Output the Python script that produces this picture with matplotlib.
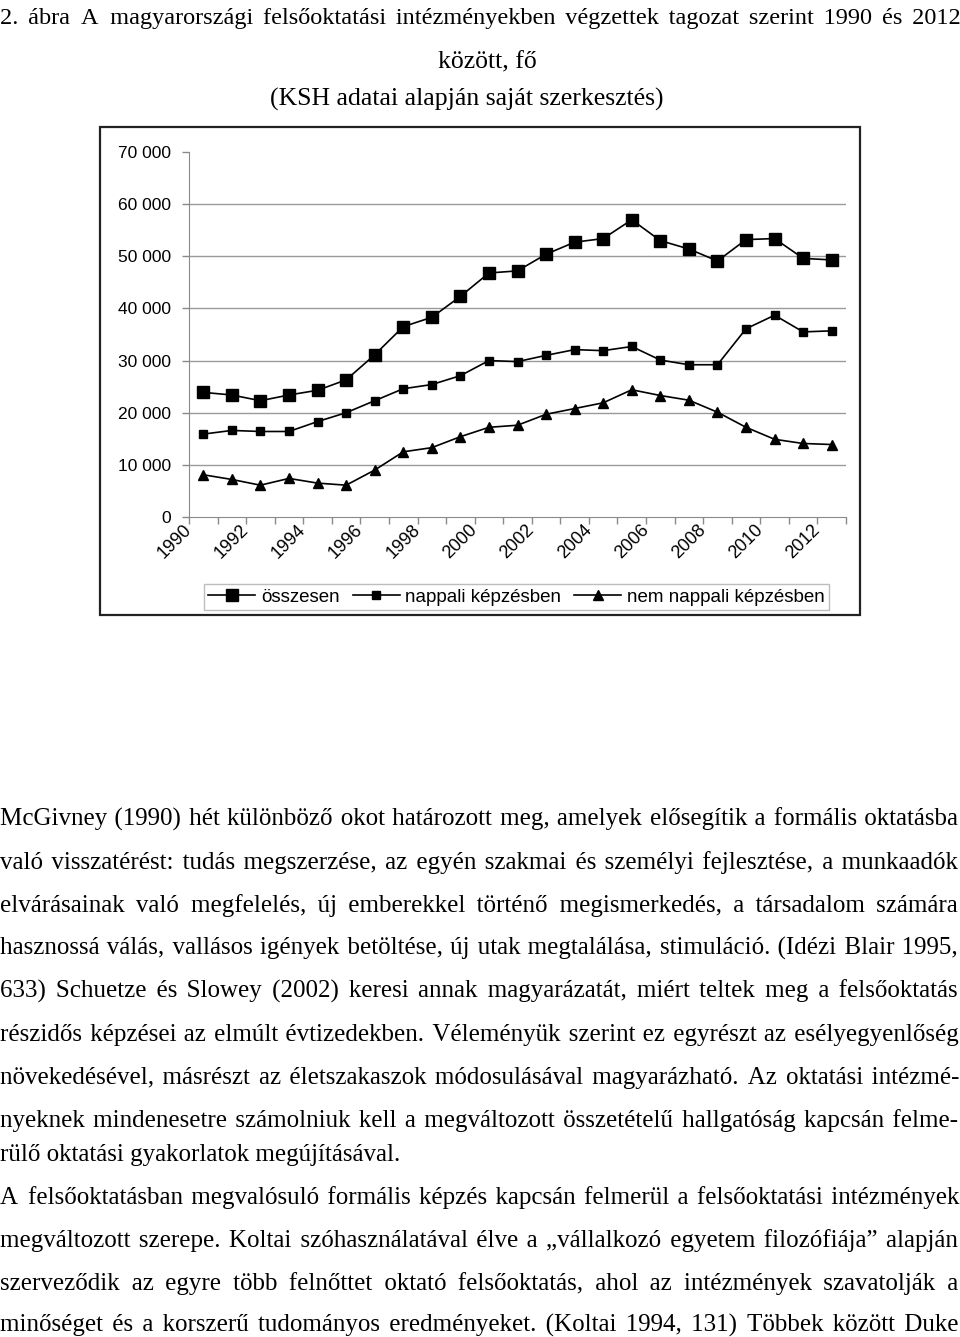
import itertools
import matplotlib
matplotlib.use("Agg")
import matplotlib.pyplot as plt
from matplotlib.patches import Rectangle

# --- data (KSH, graduates by type of training) ---
years = list(range(1990, 2013))
osszesen = [23900, 23400, 22300, 23400, 24300, 26300, 31100, 36500, 38300, 42300, 46800, 47200,
            50400, 52700, 53400, 57000, 53000, 51400, 49100, 53200, 53400, 49600, 49300]
nappali = [15900, 16600, 16400, 16400, 18300, 20000, 22300, 24600, 25400, 27100, 30000, 29800,
           31000, 32100, 31900, 32700, 30100, 29200, 29200, 36100, 38700, 35500, 35700]
nem_nappali = [8100, 7200, 6100, 7400, 6500, 6100, 9000, 12500, 13300, 15400, 17200, 17600,
               19700, 20800, 21900, 24400, 23300, 22400, 20100, 17200, 14900, 14100, 13900]
series_names = ["összesen", "nappali képzésben", "nem nappali képzésben"]
y_ticks = [0, 10000, 20000, 30000, 40000, 50000, 60000, 70000]

title_lines = [
    "2. ábra A magyarországi felsőoktatási intézményekben végzettek tagozat szerint 1990 és 2012",
    "között, fő",
    "(KSH adatai alapján saját szerkesztés)",
]

# (text, justified?)
body_lines = [
    ("McGivney (1990) hét különböző okot határozott meg, amelyek elősegítik a formális oktatásba", True),
    ("való visszatérést: tudás megszerzése, az egyén szakmai és személyi fejlesztése, a munkaadók", True),
    ("elvárásainak való megfelelés, új emberekkel történő megismerkedés, a társadalom számára", True),
    ("hasznossá válás, vallásos igények betöltése, új utak megtalálása, stimuláció. (Idézi Blair 1995,", True),
    ("633) Schuetze és Slowey (2002) keresi annak magyarázatát, miért teltek meg a felsőoktatás", True),
    ("részidős képzései az elmúlt évtizedekben. Véleményük szerint ez egyrészt az esélyegyenlőség", True),
    ("növekedésével, másrészt az életszakaszok módosulásával magyarázható. Az oktatási intézmé-", True),
    ("nyeknek mindenesetre számolniuk kell a megváltozott összetételű hallgatóság kapcsán felme-", True),
    ("rülő oktatási gyakorlatok megújításával.", False),
    ("A felsőoktatásban megvalósuló formális képzés kapcsán felmerül a felsőoktatási intézmények", True),
    ("megváltozott szerepe.  Koltai szóhasználatával élve a „vállalkozó egyetem filozófiája” alapján", True),
    ("szerveződik az egyre több felnőttet oktató felsőoktatás, ahol az intézmények szavatolják a", True),
    ("minőséget és a korszerű tudományos eredményeket. (Koltai 1994, 131) Többek között Duke", True),
]
body_baselines = [826, 869, 912, 955, 998, 1041, 1084, 1127, 1161, 1204, 1247, 1290, 1332]

W, H = 960, 1337
SERIF = ["Liberation Serif", "DejaVu Serif"]
SANS = "Liberation Sans"
# candidate space characters for justification (normal first)
SPACE_CHARS = [" ", "\u2004", "\u2005", "\u2006", "\u2009", "\u200a", "\u2002", "\u2008"]

fig = plt.figure(figsize=(W / 100, H / 100), dpi=100)
fig.patch.set_facecolor("white")

# page layer in pixel coordinates
page = fig.add_axes([0, 0, 1, 1])
page.set_xlim(0, W)
page.set_ylim(H, 0)
page.axis("off")
page.set_zorder(0)

renderer = fig.canvas.get_renderer()


def text_width(s, size):
    t = page.text(0, 0, s, fontsize=size, family=SERIF)
    w = t.get_window_extent(renderer).width
    t.remove()
    return w


def usable_spaces(size):
    base = text_width("aa", size)
    found = []
    for c in SPACE_CHARS:
        w = text_width("a" + c + "a", size) - base
        if w > 0.3 and all(abs(w - f[1]) > 0.3 for f in found):
            found.append((c, w))
    return found


def text_line(line, y, x0=0, x1=W, size=16.3, justify=True):
    """One line of text as a single string; justification is done with
    a mix of space characters of different widths between the words."""
    words = line.split()
    if not justify or len(words) < 2:
        page.text(x0, y, " ".join(words), fontsize=size, family=SERIF, va="baseline", ha="left")
        return
    spaces = usable_spaces(size)
    chars = [c for c, _ in spaces]
    sw = [w for _, w in spaces]
    ww = [text_width(w, size) for w in words]
    gap = (x1 - x0 - sum(ww)) / (len(words) - 1)
    if gap < 0.6 * sw[0]:
        scale = (x1 - x0) / (sum(ww) + 0.6 * sw[0] * (len(words) - 1))
        return text_line(line, y, x0, x1, size * scale, justify)
    ranges = [range(0, 5)] + [range(0, 3)] * (len(sw) - 1)
    combos = [(sum(n * w for n, w in zip(k, sw)), k)
              for k in itertools.product(*ranges) if sum(k) > 0]
    out, carry = words[0], 0.0
    for prev, w, wnext in zip(words[:-1], words[1:], ww[1:]):
        # side bearings between the two words, beyond a plain space
        pair = text_width(prev + " " + w, size) - text_width(prev, size) - wnext
        need = gap + carry - (pair - sw[0])
        width, k = min(combos, key=lambda c: abs(c[0] - need))
        carry = need - width
        out += "".join(c * n for c, n in zip(chars, k)) + w
    page.text(x0, y, out, fontsize=size, family=SERIF, va="baseline", ha="left")


# title
text_line(title_lines[0], 24, 0, 958, size=17.5, justify=True)
page.text(487, 68, title_lines[1], fontsize=18.5, family=SERIF, ha="center", va="baseline")
page.text(467, 106, title_lines[2], fontsize=18.5, family=SERIF, ha="center", va="baseline")

# chart frame
page.add_patch(Rectangle((100, 127), 760, 488, fill=False, edgecolor="#222222", linewidth=1.6))

# body text
for (line, just), yb in zip(body_lines, body_baselines):
    text_line(line, yb, 0, 958, size=18, justify=just)

# --- chart ---
left, right, top, bottom = 189, 846, 152, 517
ax = fig.add_axes([left / W, 1 - bottom / H, (right - left) / W, (bottom - top) / H])
ax.set_zorder(2)
ax.patch.set_alpha(0)

x = list(range(len(years)))
ax.plot(x, osszesen, color="black", lw=1.2, marker="s", markersize=8.5, label=series_names[0])
ax.plot(x, nappali, color="black", lw=1.2, marker="s", markersize=5.5, label=series_names[1])
ax.plot(x, nem_nappali, color="black", lw=1.2, marker="^", markersize=7, label=series_names[2])

ax.set_xlim(-0.5, len(years) - 0.5)
ax.set_ylim(0, 70000)
ax.set_yticks(y_ticks)
ax.set_yticklabels([f"{v:,}".replace(",", " ") for v in y_ticks], fontsize=12.5, family=SANS)
for v in y_ticks[1:-1]:
    ax.axhline(v, color="#9a9a9a", lw=1.0, zorder=0)

ax.set_xticks([i - 0.5 for i in range(len(years) + 1)])
ax.set_xticklabels([])
for i, yr in enumerate(years):
    if yr % 2 == 0:
        ax.text(i - 0.5, -0.028, str(yr), transform=ax.get_xaxis_transform(), rotation=45,
                rotation_mode="anchor", ha="right", va="center", fontsize=13, family=SANS)

for s in ["top", "right"]:
    ax.spines[s].set_visible(False)
for s in ["left", "bottom"]:
    ax.spines[s].set_color("#8a8a8a")
ax.tick_params(axis="both", direction="out", length=5, color="#8a8a8a", width=1.0)
ax.tick_params(axis="y", pad=8)

leg = ax.legend(loc="center", bbox_to_anchor=(516.5 / W, 1 - 597 / H), bbox_transform=fig.transFigure,
                ncol=3, frameon=True, fancybox=False, edgecolor="#bdbdbd", framealpha=1,
                prop={"family": SANS, "size": 13.5}, handlelength=2.5, handletextpad=0.3,
                columnspacing=0.7, borderpad=0.25)
leg.get_frame().set_linewidth(1.0)

fig.savefig("out.png", dpi=100)
